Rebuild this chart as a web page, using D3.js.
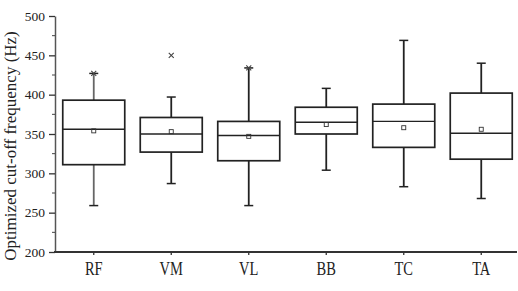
<!DOCTYPE html>
<html>
<head>
<meta charset="utf-8">
<script src="https://cdn.jsdelivr.net/npm/d3@7"></script>
<style>
  body { margin: 0; background: #fff; }
  svg { display: block; }
  text { font-family: "Times New Roman", "Liberation Serif", Times, serif; fill: #222; }
</style>
</head>
<body>
<div id="chart"></div>
<script>
// values (Hz)
const muscles = ['RF', 'VM', 'VL', 'BB', 'TC', 'TA'];
const whiskerLow = [259, 287, 259, 304, 283, 268];
const q1 = [311, 327, 316, 350, 333, 318];
const median = [356, 350, 348, 365, 366, 351];
const q3 = [393, 371, 366, 384, 388, 402];
const whiskerHigh = [427, 397, 434, 408, 469, 440];
const means = [354, 353, 347, 362, 358, 356];
// extra "x" marks: [muscle, value]
const crossMarks = [['RF', 427], ['VM', 450], ['VL', 434]];
const yTicks = [200, 250, 300, 350, 400, 450, 500];
const yMinor = [225, 275, 325, 375, 425, 475];

const width = 518, height = 291;
const serif = '"Times New Roman", "Liberation Serif", Times, serif';

const svg = d3.select('#chart').append('svg')
  .attr('width', width)
  .attr('height', height);

const x = d3.scaleBand().domain(muscles).range([55, 520]).paddingInner(0.2).paddingOuter(0.1);
const y = d3.scaleLinear().domain([200, 500]).range([252, 16]);

const boxes = muscles.map((m, i) => ({
  name: m, lo: whiskerLow[i], q1: q1[i], med: median[i], q3: q3[i], hi: whiskerHigh[i], mean: means[i]
}));

// y axis
const yAxis = svg.append('g')
  .attr('transform', 'translate(55,0)')
  .call(d3.axisLeft(y).tickValues(yTicks).tickSize(6).tickSizeOuter(0).tickPadding(4));
yAxis.attr('font-family', serif);
yAxis.select('.domain').attr('stroke', '#555').attr('stroke-width', 1.5);
yAxis.selectAll('.tick line').attr('stroke', '#333').attr('stroke-width', 1.3);
yAxis.selectAll('.tick text')
  .style('font-family', serif)
  .style('font-size', '13.5px').attr('fill', '#222');

svg.append('g')
  .selectAll('line')
  .data(yMinor)
  .join('line')
  .attr('x1', 52).attr('x2', 55)
  .attr('y1', d => y(d)).attr('y2', d => y(d))
  .attr('stroke', '#444').attr('stroke-width', 1);

// x axis
const xAxis = svg.append('g')
  .attr('transform', `translate(0,${y(200)})`)
  .call(d3.axisBottom(x).tickSize(3).tickSizeOuter(0).tickPadding(0));
xAxis.attr('font-family', serif);
xAxis.select('.domain').remove();
xAxis.append('line')
  .attr('x1', 54).attr('x2', 517)
  .attr('stroke', '#333').attr('stroke-width', 2);
xAxis.selectAll('.tick line').attr('stroke', '#333').attr('stroke-width', 1.3);
xAxis.selectAll('.tick text')
  .style('font-family', serif)
  .style('font-size', '14.5px').attr('fill', '#222')
  .attr('dy', null).attr('y', 0)
  .attr('transform', 'translate(0,22.5) scale(1,1.25)');

// y label
const yLabel = svg.append('text')
  .attr('transform', `translate(15.5,${(y(200) + y(500)) / 2 + 12}) rotate(-90)`)
  .attr('text-anchor', 'middle')
  .style('font-family', serif)
  .style('font-size', '17px')
  .text('Optimized cut-off frequency (Hz)');
const labelLen = yLabel.node().getComputedTextLength();
if (labelLen > 245) yLabel.style('font-size', (17 * 242 / labelLen) + 'px');

// boxes
const g = svg.append('g')
  .selectAll('g')
  .data(boxes)
  .join('g')
  .attr('transform', d => `translate(${x(d.name)},0)`);

const bw = x.bandwidth();
const capW = 9;

g.append('line')
  .attr('x1', bw / 2).attr('x2', bw / 2)
  .attr('y1', d => y(d.q3)).attr('y2', d => y(d.hi))
  .attr('stroke', (d, i) => i === 0 ? '#666' : '#222').attr('stroke-width', 1.8);
g.append('line')
  .attr('x1', bw / 2).attr('x2', bw / 2)
  .attr('y1', d => y(d.q1)).attr('y2', d => y(d.lo))
  .attr('stroke', (d, i) => i === 0 ? '#666' : '#222').attr('stroke-width', 1.8);

['hi', 'lo'].forEach(k => {
  g.append('line')
    .attr('x1', bw / 2 - capW / 2).attr('x2', bw / 2 + capW / 2)
    .attr('y1', d => y(d[k])).attr('y2', d => y(d[k]))
    .attr('stroke', '#222').attr('stroke-width', 1.5);
});

g.append('rect')
  .attr('x', 0).attr('width', bw)
  .attr('y', d => y(d.q3)).attr('height', d => y(d.q1) - y(d.q3))
  .attr('fill', '#fff').attr('stroke', '#222').attr('stroke-width', 1.7);

g.append('line')
  .attr('x1', 0).attr('x2', bw)
  .attr('y1', d => y(d.med)).attr('y2', d => y(d.med))
  .attr('stroke', '#222').attr('stroke-width', 1.4);

g.append('rect')
  .attr('x', bw / 2 - 2).attr('width', 4)
  .attr('y', d => y(d.mean) - 2).attr('height', 4)
  .attr('fill', 'none').attr('stroke', '#333').attr('stroke-width', 0.9);

// cross marks
svg.append('g')
  .selectAll('path')
  .data(crossMarks)
  .join('path')
  .attr('transform', d => `translate(${x(d[0]) + bw / 2},${y(d[1])})`)
  .attr('d', 'M-2.5,-2.5L2.5,2.5M-2.5,2.5L2.5,-2.5')
  .attr('stroke', '#444').attr('stroke-width', 1.1);
</script>
</body>
</html>
